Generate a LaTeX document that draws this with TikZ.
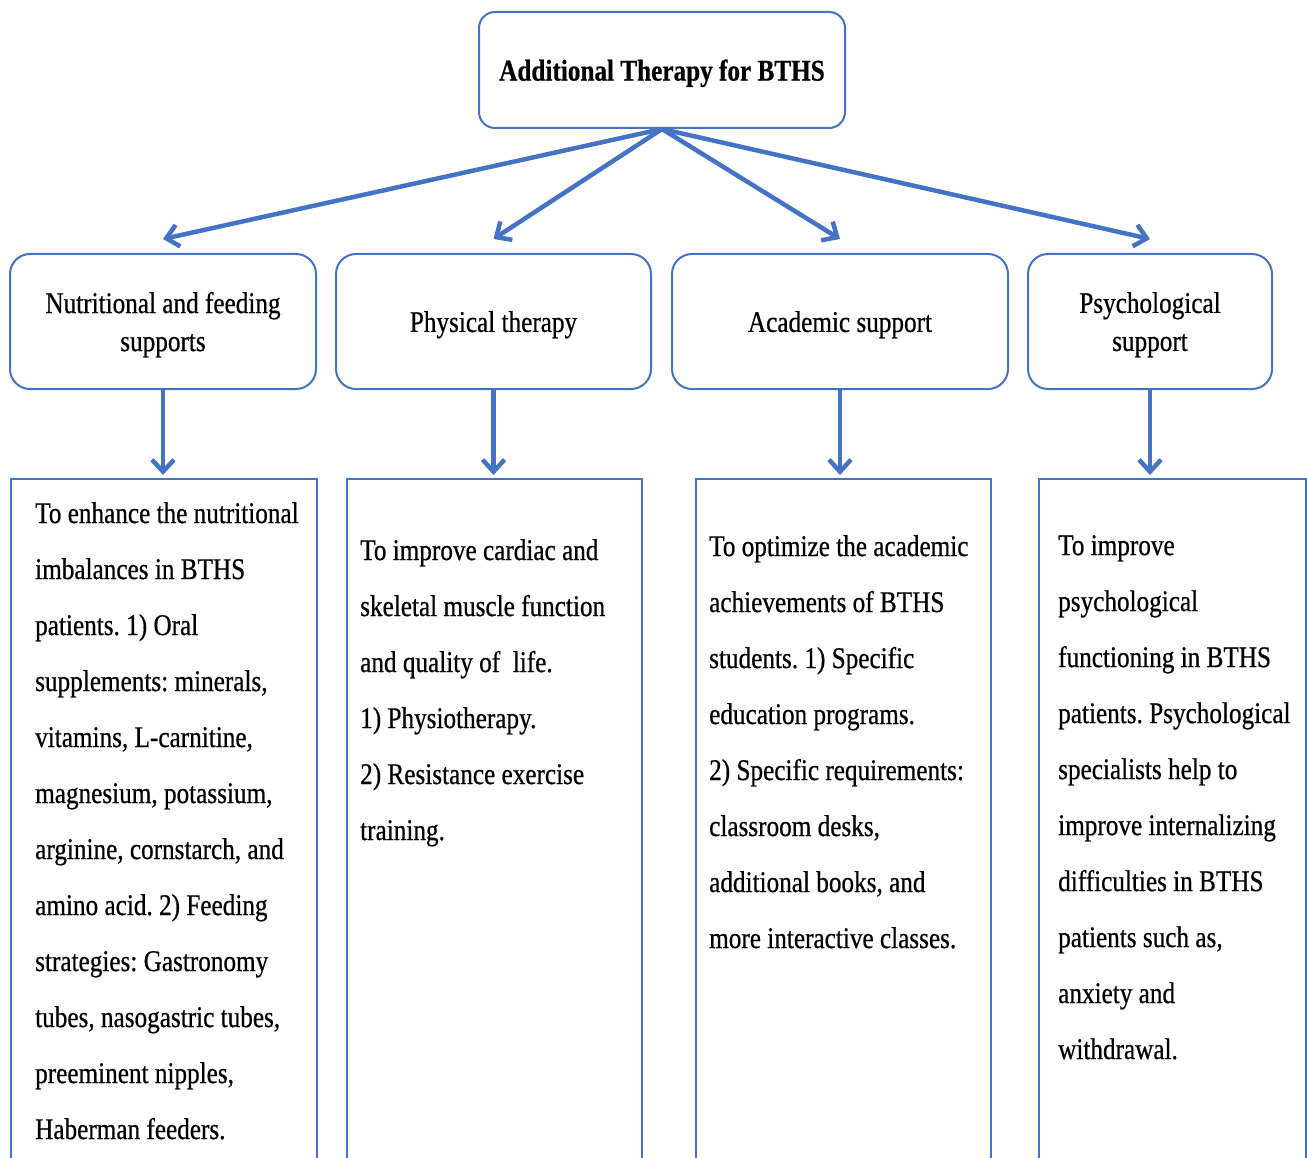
\documentclass[tikz,border=0pt]{standalone}
\usepackage{fontspec}
\setmainfont{Liberation Serif}[FakeStretch=0.84,FakeBold=0.6]
\usetikzlibrary{arrows.meta}
\definecolor{lineblue}{HTML}{4472C4}
\tikzset{
  headbox/.style={draw=lineblue, line width=2pt, rounded corners=16pt, minimum width=366pt, minimum height=116pt, text depth=-6pt, font=\fontsize{30}{36}\selectfont\bfseries},
  groupbox/.style={draw=lineblue, line width=2pt, rounded corners=20pt, minimum height=135pt, align=center, text depth=-10pt, font=\fontsize{30}{38}\selectfont},
  detailbox/.style={draw=lineblue, line width=1.6pt, anchor=north west, minimum height=760pt},
  detailtext/.style={anchor=north west, align=left, inner sep=0pt, font=\fontsize{30}{56}\selectfont},
  link/.style={draw=lineblue, line width=4.5pt, -{Straight Barb[length=12pt,width=22pt]}},
}
\frenchspacing
\begin{document}
\begin{tikzpicture}[x=1pt,y=-1pt]
    \useasboundingbox(0,0)rectangle(1307,1158);
    \clip(0,0)rectangle(1307,1158);
    
    \node[headbox](top)at(662,70){Additional Therapy for BTHS};
    
    \node[groupbox, minimum width=306pt](nut)at(163,321.5){Nutritional and feeding\\supports};
    \node[groupbox, minimum width=315pt](phy)at(493.5,321.5){Physical therapy};
    \node[groupbox, minimum width=336pt](aca)at(840,321.5){Academic support};
    \node[groupbox, minimum width=244pt](psy)at(1150,321.5){Psychological\\support};
    
    \node[detailbox, minimum width=306pt](nutd)at(10,478){};
    \node[detailbox, minimum width=295pt](phyd)at(346,478){};
    \node[detailbox, minimum width=295pt](acad)at(695,478){};
    \node[detailbox, minimum width=267pt](psyd)at(1038,478){};
    
    \node[detailtext](nutt)at(35,502){To enhance the nutritional\\imbalances in BTHS\\patients. 1) Oral\\supplements: minerals,\\vitamins, L-carnitine,\\magnesium, potassium,\\arginine, cornstarch, and\\amino acid. 2) Feeding\\strategies: Gastronomy\\tubes, nasogastric tubes,\\preeminent nipples,\\Haberman feeders.};
    \node[detailtext](phyt)at(360,539){To improve cardiac and\\skeletal muscle function\\and quality of~ life.\\1) Physiotherapy.\\2) Resistance exercise\\training.};
    \node[detailtext](acat)at(709,535){To optimize the academic\\achievements of BTHS\\students. 1) Specific\\education programs.\\2) Specific requirements:\\classroom desks,\\additional books, and\\more interactive classes.};
    \node[detailtext](psyt)at(1058,535){To improve\\psychological\\functioning in BTHS\\patients. Psychological\\specialists help to\\improve internalizing\\difficulties in BTHS\\patients such as,\\anxiety and\\withdrawal.};
    
    \foreach \g in {nut,phy,aca,psy}{
        \draw[link](top.south)--([yshift=14pt]\g.north);
        \draw[link, shorten >=3pt](\g.south)--(\g.south |- \g d.north);
    }
\end{tikzpicture}
\end{document}
